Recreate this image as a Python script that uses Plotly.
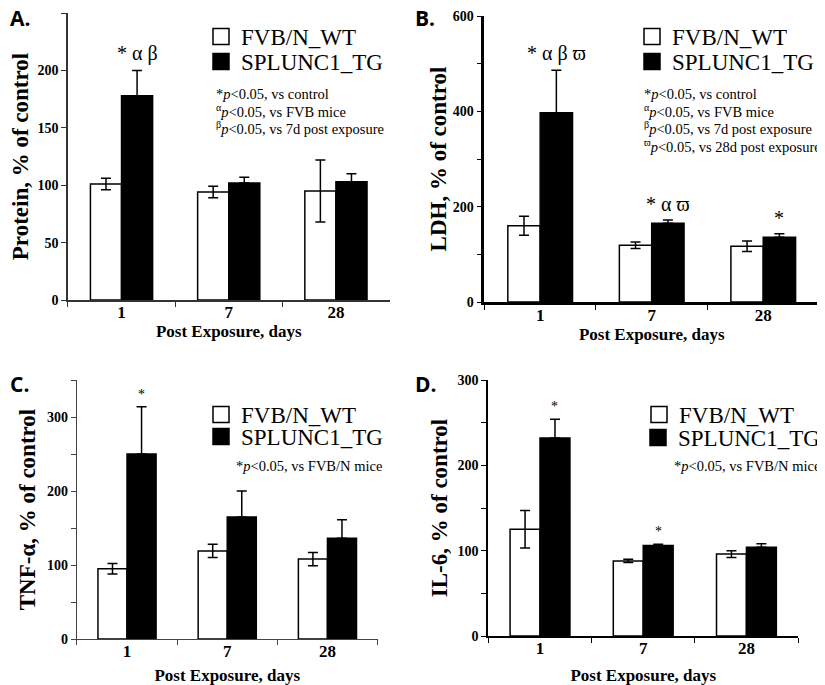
import plotly.graph_objects as go

# post exposure days
days = ["1", "7", "28"]

# A. protein, % of control
protein_wt = [101, 94, 95]
protein_wt_err = [5, 5, 27]
protein_tg = [178, 102, 103]
protein_tg_err = [22, 5, 7]

# B. LDH, % of control
ldh_wt = [160, 119, 117]
ldh_wt_err = [20, 7, 11]
ldh_tg = [397, 165, 136]
ldh_tg_err = [89, 7, 7]

# C. TNF-alpha, % of control
tnf_wt = [95, 119, 108]
tnf_wt_err = [7, 9, 9]
tnf_tg = [250, 165, 136]
tnf_tg_err = [64, 35, 25]

# D. IL-6, % of control
il6_wt = [125, 88, 96]
il6_wt_err = [22, 2, 4]
il6_tg = [232, 106, 104]
il6_tg_err = [22, 1.5, 4]

# significance marks above TG bars
stars_a = ["* α β", "", ""]
stars_b = ["* α β ϖ", "* α ϖ", "*"]
stars_c = ["*", "", ""]
stars_d = ["*", "*", ""]

notes_a = ["*<i>p</i>&lt;0.05, vs control",
           "<sup>α</sup><i>p</i>&lt;0.05, vs FVB mice",
           "<sup>β</sup><i>p</i>&lt;0.05, vs 7d post exposure"]
notes_b = notes_a + ["<sup>ϖ</sup><i>p</i>&lt;0.05, vs 28d post exposure"]
notes_cd = ["*<i>p</i>&lt;0.05, vs FVB/N mice"]

SERIF = "Liberation Serif"
OFF = 8  # page body margin
W, H = 825 - OFF, 685 - OFF


def fx(px):
    return (px - OFF) / W


def fy(py):
    return 1 - (py - OFF) / H


panels = [
    dict(letter="A.", ytitle="Protein, % of control", wt=protein_wt, we=protein_wt_err,
         tg=protein_tg, te=protein_tg_err, stars=stars_a, notes=notes_a,
         xd=(68, 390), yd=(13, 300), yr=250, dt=50, minor=None, ac="#333", aw=1.5, ss=20,
         leg=(201, 35, 60), note=(214, 96), lpos=(8, 2), so=4, xso=0),
    dict(letter="B.", ytitle="LDH, % of control", wt=ldh_wt, we=ldh_wt_err,
         tg=ldh_tg, te=ldh_tg_err, stars=stars_b, notes=notes_b,
         xd=(485, 820), yd=(16, 302), yr=600, dt=200, minor=100, ac="#000", aw=2.5, ss=20,
         leg=(632, 35, 60), note=(643, 96), lpos=(413, 2), so=0, xso=0),
    dict(letter="C.", ytitle="TNF-α, % of control", wt=tnf_wt, we=tnf_wt_err,
         tg=tnf_tg, te=tnf_tg_err, stars=stars_c, notes=notes_cd,
         xd=(77, 378), yd=(380, 639), yr=350, dt=100, minor=50, ac="#444", aw=1.2, ss=14,
         leg=(201, 413, 435), note=(234, 468), lpos=(8, 368), so=4, xso=12),
    dict(letter="D.", ytitle="IL-6, % of control", wt=il6_wt, we=il6_wt_err,
         tg=il6_tg, te=il6_tg_err, stars=stars_d, notes=notes_cd,
         xd=(489, 799), yd=(380, 636), yr=300, dt=100, minor=50, ac="#000", aw=2, ss=14,
         leg=(639, 413, 436), note=(673, 468), lpos=(413, 368), so=4, xso=12),
]

fig = go.Figure()
layout = {}
annotations = []

for k, p in enumerate(panels):
    n = "" if k == 0 else str(k + 1)
    xa, ya = "x" + n, "y" + n
    fig.add_trace(go.Bar(
        x=days, y=p["wt"], name="FVB/N_WT", xaxis=xa, yaxis=ya, showlegend=False,
        marker=dict(color="white", line=dict(color="black", width=1.5)),
        error_y=dict(type="data", array=p["we"], color="black", thickness=1.5, width=5),
    ))
    fig.add_trace(go.Bar(
        x=days, y=p["tg"], name="SPLUNC1_TG", xaxis=xa, yaxis=ya, showlegend=False,
        marker=dict(color="black", line=dict(color="black", width=1.5)),
        error_y=dict(type="data", array=p["te"], arrayminus=[0] * 3, color="black",
                     thickness=1.5, width=5),
    ))
    # legend entries, one legend per entry so the spacing can follow the figure
    lx, ly1, ly2 = p["leg"]
    for j, (nm, col, ly) in enumerate([("FVB/N_WT", "white", ly1), ("SPLUNC1_TG", "black", ly2)]):
        lg = "legend" + ("" if 2 * k + j == 0 else str(2 * k + j + 1))
        fig.add_trace(go.Scatter(
            x=[None], y=[None], mode="markers", name=nm, xaxis=xa, yaxis=ya, legend=lg,
            marker=dict(symbol="square", size=16, color=col, line=dict(color="black", width=1.5)),
        ))
        layout[lg] = dict(x=fx(lx), y=fy(ly - 20), xanchor="left", yanchor="top",
                          font=dict(family=SERIF, size=23, color="black"),
                          bgcolor="rgba(0,0,0,0)", itemwidth=30)
    x0, x1 = p["xd"]
    t, b = p["yd"]
    layout["xaxis" + n] = dict(
        domain=[fx(x0), fx(x1)], anchor=ya, type="category", automargin=False,
        showline=True, linecolor=p["ac"], linewidth=p["aw"],
        ticks="outside", tickson="boundaries", ticklen=5, tickcolor=p["ac"],
        tickfont=dict(family=SERIF, size=17, color="black", weight="bold"),
        ticklabelstandoff=-4,
        title=dict(text="<b>Post Exposure, days</b>", font=dict(family=SERIF, size=17, color="black"),
                   standoff=p["xso"]),
        showgrid=False, zeroline=False, fixedrange=True,
    )
    yax = dict(
        domain=[fy(b), fy(t)], anchor=xa, range=[0, p["yr"]], dtick=p["dt"],
        automargin=False,
        showline=True, linecolor=p["ac"], linewidth=p["aw"],
        ticks="outside", ticklen=5, tickcolor=p["ac"],
        tickfont=dict(family=SERIF, size=14, color="black", weight="bold"),
        title=dict(text="<b>" + p["ytitle"] + "</b>", font=dict(family=SERIF, size=23, color="black"),
                   standoff=p["so"]),
        showgrid=False, zeroline=False, fixedrange=True,
    )
    if p["minor"]:
        yax["minor"] = dict(ticks="outside", dtick=p["minor"], ticklen=5, tickcolor=p["ac"])
    layout["yaxis" + n] = yax
    # significance marks
    for i, s in enumerate(p["stars"]):
        if s:
            annotations.append(dict(
                x=i + 0.145, y=p["tg"][i] + p["te"][i], xref=xa, yref=ya,
                text=s, showarrow=False, yanchor="bottom", yshift=3,
                font=dict(family=SERIF, size=p["ss"], color="black")))
    # p-value notes, one line each
    nx, ny = p["note"]
    for i, line in enumerate(p["notes"]):
        annotations.append(dict(
            x=fx(nx), y=fy(ny + 17.6 * i + 8), xref="paper", yref="paper",
            xanchor="left", yanchor="bottom", align="left", showarrow=False, text=line,
            font=dict(family=SERIF, size=14.5, color="black")))
    px_, py_ = p["lpos"]
    annotations.append(dict(
        x=fx(px_), y=min(1, fy(py_)), xref="paper", yref="paper", xanchor="left", yanchor="top",
        yshift=6 if py_ < OFF else 0,
        showarrow=False, text="<b>" + p["letter"] + "</b>",
        font=dict(family="Open Sans", size=21, color="black")))

fig.update_layout(
    width=W, height=H, margin=dict(l=0, r=0, t=0, b=0),
    paper_bgcolor="white", plot_bgcolor="white",
    barmode="group", bargap=0.42, bargroupgap=0,
    annotations=annotations, **layout,
)

fig.write_html("out.html")
